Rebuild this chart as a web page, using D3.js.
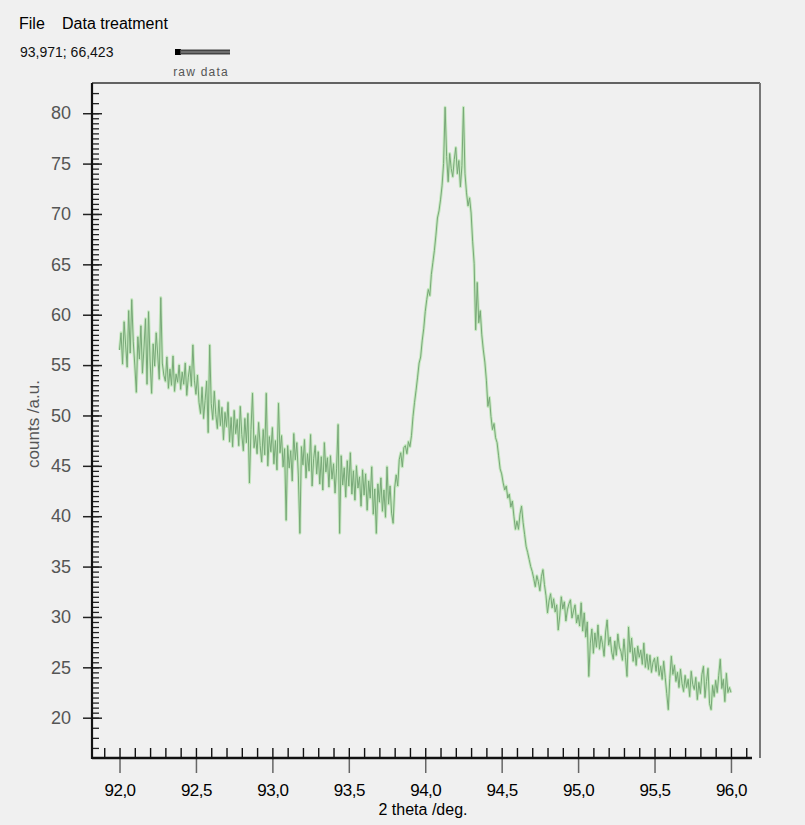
<!DOCTYPE html>
<html><head><meta charset="utf-8">
<script src="https://cdn.jsdelivr.net/npm/d3@7"></script>
<style>
html,body{margin:0;padding:0;background:#f0f0f0;}
svg{display:block;font-family:"Liberation Sans",Arial,sans-serif;}
</style></head>
<body>
<script>
// ---- data ----
const menuItems = ["File", "Data treatment"];
const cursorReadout = "93,971; 66,423";
const seriesName = "raw data";
const xTitle = "2 theta /deg.";
const yTitle = "counts /a.u.";
const thetaStart = 92.0;
const thetaStep = 0.01;
const counts = [
 56.5,58.2,55.1,59.3,57.0,54.8,60.4,56.2,61.5,57.3,
 55.0,52.3,57.8,55.6,58.9,54.2,56.7,59.6,53.1,60.3,
 55.4,52.2,57.1,54.9,58.2,56.0,53.6,61.7,55.2,54.0,
 53.4,55.8,52.7,54.6,53.0,55.9,52.4,54.1,53.3,55.0,
 52.6,54.3,53.1,55.2,52.0,53.8,54.9,52.9,57.0,53.5,
 52.1,54.0,51.3,50.2,52.8,49.7,51.5,53.4,48.3,57.0,
 51.2,49.6,52.4,50.1,48.7,51.5,49.0,50.8,47.6,50.3,
 48.9,51.3,47.4,49.8,46.9,50.5,48.2,49.6,47.0,50.9,
 48.1,46.5,49.7,47.3,50.2,43.3,48.6,52.2,46.8,48.0,
 46.2,49.3,47.0,45.4,48.6,46.1,52.2,45.0,47.9,46.4,
 48.8,45.2,47.5,44.6,51.2,46.3,48.0,44.9,46.7,39.6,
 47.0,44.8,46.5,43.5,48.2,45.6,47.3,44.0,38.3,46.9,
 45.1,47.6,43.8,46.2,44.5,48.1,43.0,45.7,47.0,44.2,
 46.4,43.2,45.9,42.6,47.3,44.4,45.8,42.9,46.0,43.7,
 45.2,42.3,44.7,49.1,38.3,46.0,43.1,44.8,41.9,45.5,
 43.0,46.3,42.2,44.5,41.6,45.0,42.8,43.9,41.0,44.6,
 42.1,44.2,40.6,43.5,41.8,44.9,40.2,42.7,38.3,43.2,
 41.4,43.8,40.5,42.6,39.9,44.9,41.2,43.0,40.3,39.3,
 42.8,44.1,43.0,45.6,46.3,44.9,46.8,47.0,46.2,47.4,
 46.9,48.0,49.9,51.3,52.5,53.8,55.2,55.8,57.4,58.6,
 60.3,61.5,62.5,61.9,64.0,65.2,66.4,67.9,69.6,70.3,
 71.4,72.8,75.0,80.6,75.7,73.2,76.0,74.5,73.7,75.4,
 76.6,74.0,75.3,72.7,74.8,80.6,74.0,72.1,70.8,71.6,
 70.1,67.3,65.1,58.5,63.2,59.2,60.4,58.0,56.5,55.3,
 53.5,50.9,51.8,49.9,48.6,49.2,47.8,47.3,46.0,44.7,
 44.2,43.3,42.6,43.0,41.8,42.2,40.9,41.5,40.0,38.7,
 39.5,38.7,40.2,41.0,39.4,38.2,37.0,36.4,35.7,35.0,
 34.5,33.8,33.0,34.1,33.5,32.6,34.0,34.7,33.2,32.1,
 30.4,31.6,32.3,30.9,31.8,30.5,31.2,28.7,30.1,32.0,
 30.8,31.5,29.6,30.7,31.3,31.7,29.9,30.6,31.2,29.4,
 30.2,29.1,31.4,28.6,30.4,28.0,29.5,24.1,27.4,28.8,
 26.4,28.4,27.0,29.2,26.8,28.1,27.3,26.1,28.5,29.7,
 27.2,28.0,26.5,25.8,27.6,26.2,28.3,27.0,26.6,25.7,
 27.8,26.0,24.1,29.0,26.5,27.9,25.6,26.9,25.2,27.1,
 26.0,26.7,25.3,27.4,25.0,26.3,24.8,26.2,24.5,25.5,
 25.9,24.6,26.0,24.2,25.1,23.8,25.6,24.0,22.4,20.8,
 23.9,26.1,24.3,25.2,23.6,24.5,23.0,24.8,23.4,22.6,
 24.2,23.0,23.8,22.1,24.6,23.3,22.8,24.0,21.8,23.5,
 22.4,24.3,25.1,22.0,23.6,24.9,21.4,20.8,23.2,22.1,
 23.7,22.5,24.2,25.8,22.9,23.8,21.6,24.4,22.5,23.0,
 22.5
];
const xMajorTicks = [92.0, 92.5, 93.0, 93.5, 94.0, 94.5, 95.0, 95.5, 96.0];
const xMinorTicks = [91.9,92.0,92.1,92.2,92.3,92.4,92.5,92.6,92.7,92.8,92.9,93.0,93.1,93.2,93.3,93.4,93.5,93.6,93.7,93.8,93.9,94.0,94.1,94.2,94.3,94.4,94.5,94.6,94.7,94.8,94.9,95.0,95.1,95.2,95.3,95.4,95.5,95.6,95.7,95.8,95.9,96.0,96.1];
const yMajorTicks = [20, 25, 30, 35, 40, 45, 50, 55, 60, 65, 70, 75, 80];
const yMinorTicks = [17,18,19,20,20.5,21,21.5,22,22.5,23,23.5,24,24.5,25,25.5,26,26.5,27,27.5,28,28.5,29,29.5,30,30.5,31,31.5,32,32.5,33,33.5,34,34.5,35,35.5,36,36.5,37,37.5,38,38.5,39,39.5,40,40.5,41,41.5,42,42.5,43,43.5,44,44.5,45,45.5,46,46.5,47,47.5,48,48.5,49,49.5,50,50.5,51,51.5,52,52.5,53,53.5,54,54.5,55,55.5,56,56.5,57,57.5,58,58.5,59,59.5,60,60.5,61,61.5,62,62.5,63,63.5,64,64.5,65,65.5,66,66.5,67,67.5,68,68.5,69,69.5,70,70.5,71,71.5,72,72.5,73,73.5,74,74.5,75,75.5,76,76.5,77,77.5,78,78.5,79,79.5,80,81,82];
const xDomain = [91.82, 96.19];
const yDomain = [16, 83];

// ---- layout ----
const W = 805, H = 825;
const L = 92, R = 760, T = 83, B = 758;

const svg = d3.select("body").append("svg").attr("width", W).attr("height", H);
svg.append("rect").attr("width", W).attr("height", H).attr("fill", "#f0f0f0");

const x = d3.scaleLinear().domain(xDomain).range([L, R]);
const y = d3.scaleLinear().domain(yDomain).range([B, T]);

// header
svg.append("text").attr("x", 19).attr("y", 29).attr("font-size", 16).attr("fill", "#000").text(menuItems[0]);
svg.append("text").attr("x", 62).attr("y", 29).attr("font-size", 16).attr("fill", "#000").text(menuItems[1]);
svg.append("text").attr("x", 20).attr("y", 57).attr("font-size", 14).attr("fill", "#111").text(cursorReadout);

// legend
svg.append("rect").attr("x", 175).attr("y", 49).attr("width", 6).attr("height", 6).attr("fill", "#000");
svg.append("rect").attr("x", 180).attr("y", 49.5).attr("width", 50).attr("height", 5).attr("fill", "#444");
svg.append("line").attr("x1", 181).attr("x2", 230).attr("y1", 52).attr("y2", 52).attr("stroke", "#999").attr("stroke-width", 1);
svg.append("text").attr("x", 201).attr("y", 76).attr("text-anchor", "middle").attr("font-size", 12).attr("letter-spacing", 1.2).attr("fill", "#555").text(seriesName);

// frame (top + right)
svg.append("line").attr("x1", L).attr("x2", R).attr("y1", T).attr("y2", T).attr("stroke", "#333").attr("stroke-width", 1.5);
svg.append("line").attr("x1", R).attr("x2", R).attr("y1", T).attr("y2", B).attr("stroke", "#777").attr("stroke-width", 2);

// data line
const pts = counts.map((v, i) => [thetaStart + i * thetaStep, v]);
const line = d3.line().x(d => x(d[0])).y(d => y(d[1]));
svg.append("path").datum(pts).attr("d", line).attr("fill", "none")
  .attr("stroke", "#c6e8c0").attr("stroke-width", 3).attr("stroke-linejoin", "round");
svg.append("path").datum(pts).attr("d", line).attr("fill", "none")
  .attr("stroke", "#78a878").attr("stroke-width", 1).attr("stroke-linejoin", "round");

const fmtX = d => d3.format(".1f")(d).replace(".", ",");

// y axis
const gy = svg.append("g").attr("transform", `translate(${L},0)`);
gy.call(d3.axisLeft(y).tickValues(yMajorTicks).tickSize(9).tickPadding(12).tickFormat(d3.format("d")));
gy.select(".domain").remove();
gy.selectAll("text").attr("font-size", 18).attr("fill", "#555").attr("font-family", "Liberation Sans, Arial, sans-serif");
gy.selectAll("line").attr("stroke", "#222").attr("stroke-width", 1.5);
const gyIn = svg.append("g").attr("transform", `translate(${L},0)`);
gyIn.call(d3.axisRight(y).tickValues(yMajorTicks).tickSize(10).tickFormat(""));
gyIn.select(".domain").remove();
gyIn.selectAll("line").attr("stroke", "#222").attr("stroke-width", 1.5);
const gyMin = svg.append("g").attr("transform", `translate(${L},0)`);
gyMin.call(d3.axisRight(y).tickValues(yMinorTicks).tickSize(7).tickFormat(""));
gyMin.select(".domain").remove();
gyMin.selectAll("line").attr("stroke", "#222").attr("stroke-width", 1.3);
svg.append("line").attr("x1", L).attr("x2", L).attr("y1", T).attr("y2", B + 1).attr("stroke", "#111").attr("stroke-width", 2.2);

// x axis
const gx = svg.append("g").attr("transform", `translate(0,${B})`);
gx.call(d3.axisBottom(x).tickValues(xMajorTicks).tickSize(15).tickPadding(11).tickFormat(fmtX));
gx.select(".domain").remove();
gx.selectAll("text").attr("font-size", 17).attr("fill", "#000").attr("font-family", "Liberation Sans, Arial, sans-serif").attr("letter-spacing", -0.5);
gx.selectAll("line").attr("stroke", "#666").attr("stroke-width", 1.5);
const gxIn = svg.append("g").attr("transform", `translate(0,${B})`);
gxIn.call(d3.axisTop(x).tickValues(xMinorTicks).tickSize(10).tickFormat(""));
gxIn.select(".domain").remove();
gxIn.selectAll("line").attr("stroke", "#111").attr("stroke-width", 1.4);
svg.append("line").attr("x1", L).attr("x2", 752).attr("y1", B).attr("y2", B).attr("stroke", "#111").attr("stroke-width", 2.5);

// titles
svg.append("text").attr("x", 423).attr("y", 815).attr("text-anchor", "middle").attr("font-size", 16).attr("fill", "#000").text(xTitle);
svg.append("text").attr("transform", "translate(39,424) rotate(-90)").attr("text-anchor", "middle").attr("font-size", 17).attr("fill", "#555").text(yTitle);
</script>
</body></html>
